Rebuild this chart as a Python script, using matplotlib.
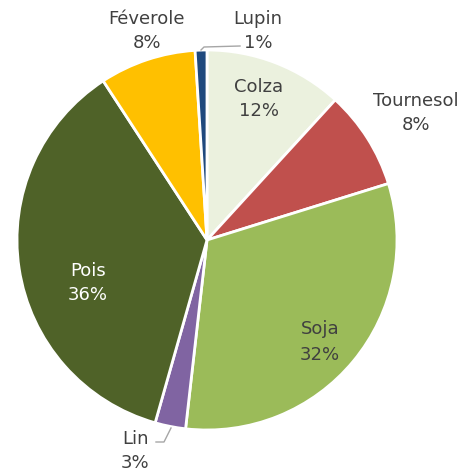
import numpy as np
import matplotlib.pyplot as plt

# Data (clockwise from 12 o'clock)
cultures = ["Colza", "Tournesol", "Soja", "Lin", "Pois", "Féverole", "Lupin"]
parts = [11.8, 8.4, 31.6, 2.6, 36.4, 8.2, 1.0]
couleurs = ["#EBF1DE", "#C0504D", "#9BBB59", "#8064A2", "#4F6228", "#FFC000", "#1F497D"]

W, H = 470, 468
fig = plt.figure(figsize=(W / 100, H / 100), dpi=100)
ax = fig.add_axes([0, 0, 1, 1])

cx, cy, r = 207, H - 240, 190
wedges, _ = ax.pie(parts, colors=couleurs, startangle=90, counterclock=False,
                   center=(cx, cy), radius=r, frame=True,
                   wedgeprops=dict(edgecolor="white", linewidth=2))
ax.set_xlim(0, W)
ax.set_ylim(0, H)
ax.set_aspect("equal")
ax.axis("off")

# label positions (pixels, from top-left)
label_pos = {
    "Colza": (259, 99),
    "Tournesol": (416, 113),
    "Soja": (320, 342),
    "Lin": (135, 451),
    "Pois": (88, 283),
    "Féverole": (147, 31),
    "Lupin": (258, 31),
}
txt = "#404040"
for nom, p in zip(cultures, parts):
    x, y = label_pos[nom]
    col = "white" if nom == "Pois" else txt
    ax.text(x, H - y, f"{nom}\n{round(p):.0f}%", ha="center", va="center", fontsize=13,
            color=col, linespacing=1.5)

# leader lines
ax.plot([201, 204, 240], [H - 50, H - 47, H - 46], color="#A6A6A6", lw=1)
ax.plot([171, 164, 156], [H - 428, H - 442, H - 442], color="#A6A6A6", lw=1)

fig.savefig("out.png", dpi=100)
